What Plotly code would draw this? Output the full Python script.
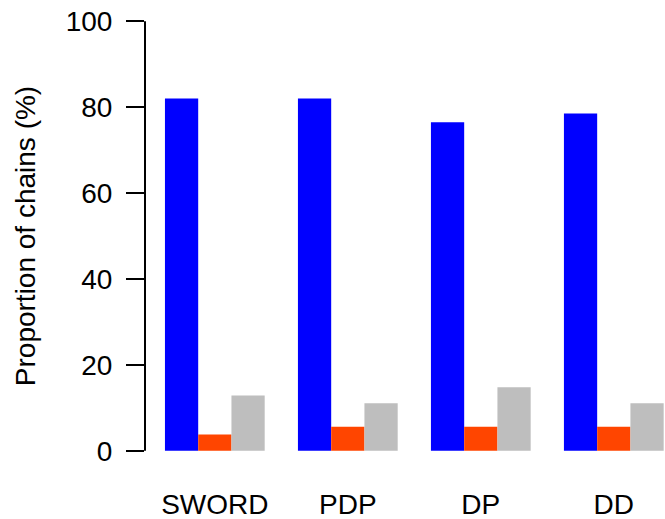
import plotly.graph_objects as go

methods = ["SWORD", "PDP", "DP", "DD"]
series_a = [82.0, 82.0, 76.5, 78.5]   # blue
series_b = [3.8, 5.6, 5.6, 5.6]       # orange-red
series_c = [12.9, 11.1, 14.8, 11.1]   # grey
y_ticks = [0, 20, 40, 60, 80, 100]

colors = ["#0000FF", "#FF4500", "#BEBEBE"]
FONT = "Liberation Sans, Arial, Helvetica, sans-serif"

fig = go.Figure()
for vals, col in zip([series_a, series_b, series_c], colors):
    fig.add_trace(go.Bar(x=methods, y=vals, marker=dict(color=col, line=dict(width=0)),
                         showlegend=False, hoverinfo="skip"))

fig.update_layout(
    width=665, height=519,
    margin=dict(l=145, r=0, t=4, b=51),
    paper_bgcolor="white", plot_bgcolor="white",
    barmode="group", bargap=0.25, bargroupgap=0,
    font=dict(family=FONT, size=28, color="black"),
)
fig.update_xaxes(
    type="category", range=[-0.525, 3.385], automargin=False,
    showline=False, showgrid=False, zeroline=False, ticks="",
    tickfont=dict(size=28), ticklabelstandoff=17,
)
fig.update_yaxes(
    range=[-4, 104], tickvals=y_ticks, ticktext=[str(v) for v in y_ticks],
    automargin=False,
    showline=False, showgrid=False, zeroline=False,
    ticks="outside", ticklen=18, tickwidth=2, tickcolor="black",
    tickfont=dict(size=28), ticklabelstandoff=8,
    title=dict(text="Proportion of chains (%)", font=dict(size=28), standoff=21),
)
fig.add_shape(type="line", xref="paper", yref="y", x0=0, x1=0,
              y0=y_ticks[0], y1=y_ticks[-1], line=dict(color="black", width=2))

fig.write_html("out.html", config={"displayModeBar": False},
               post_script="document.body.style.margin='0';document.body.style.overflow='hidden';")
